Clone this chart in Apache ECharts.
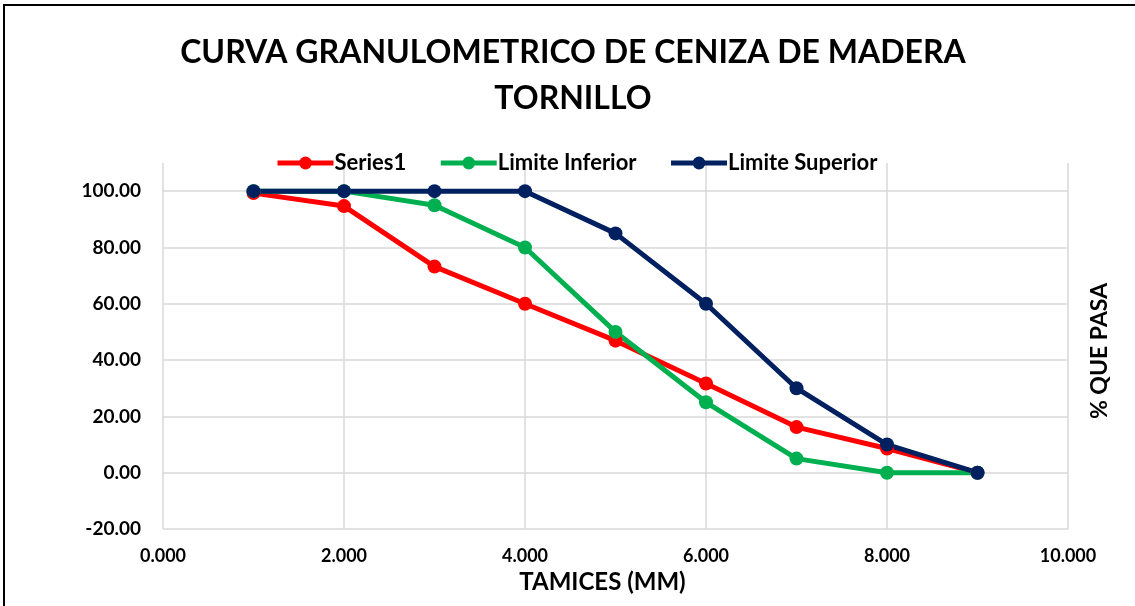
<!DOCTYPE html>
<html><head><meta charset="utf-8">
<script src="https://cdn.jsdelivr.net/npm/echarts@6/dist/echarts.min.js"></script>
<style>
html,body{margin:0;padding:0;background:#fff;overflow:hidden}
#frame{position:absolute;left:3px;top:4px;width:1140px;height:610px;border:2px solid #000;box-sizing:border-box}
#c{position:absolute;left:0;top:0;width:1135px;height:606px}
</style></head>
<body><div id="frame"></div><div id="c"></div>
<script>
const xValues = [1, 2, 3, 4, 5, 6, 7, 8, 9];
const series1 = [99.3, 94.7, 73.2, 60.0, 46.9, 31.7, 16.2, 8.6, 0];
const limiteInferior = [100, 100, 95, 80, 50, 25, 5, 0, 0];
const limiteSuperior = [100, 100, 100, 100, 85, 60, 30, 10, 0];
const seriesNames = ['Series1', 'Limite Inferior', 'Limite Superior'];
const colors = ['#FF0000', '#00B050', '#002060'];

const font = 'Lato';
const pair = arr => xValues.map((x, i) => [x, arr[i]]);
const chart = echarts.init(document.getElementById('c'));
const mk = (name, data, color) => ({
  name, type: 'line', data: pair(data), symbol: 'circle', symbolSize: 14,
  lineStyle: {width: 5, color}, itemStyle: {color}, color, animation: false
});
chart.setOption({
  animation: false,
  title: {
    text: 'CURVA GRANULOMETRICO DE CENIZA DE MADERA\nTORNILLO',
    left: 568, textAlign: 'center', top: 25, itemGap: 0,
    textStyle: {fontFamily: font, fontWeight: 'bold', fontSize: 32, lineHeight: 46, color: '#000'}
  },
  legend: {
    left: 275, top: 152, padding: 0, itemWidth: 56, itemHeight: 16, itemGap: 32,
    data: seriesNames,
    lineStyle: {width: 5},
    textStyle: {fontFamily: font, fontWeight: 'bold', fontSize: 22, color: '#000', padding: [0,0,0,-4]}
  },
  grid: {left: 163, right: 67, top: 163, bottom: 77},
  xAxis: {
    type: 'value', min: 0, max: 10, interval: 2,
    name: 'TAMICES (MM)', nameLocation: 'middle', nameGap: 40,
    nameTextStyle: {fontFamily: font, fontWeight: 'bold', fontSize: 24, color: '#000', padding: [0, 26, 0, 0]},
    axisLine: {show: false}, axisTick: {show: false},
    axisLabel: {fontFamily: font, fontWeight: 'bold', fontSize: 18, color: '#000', margin: 18,
      formatter: v => v.toFixed(3)},
    splitLine: {show: true, lineStyle: {color: '#D9D9D9', width: 1.5}}
  },
  yAxis: [{
    type: 'value', min: -20, max: 110, interval: 20,
    axisLine: {show: false}, axisTick: {show: false},
    axisLabel: {fontFamily: font, fontWeight: 'bold', fontSize: 19, color: '#000', margin: 22,
      showMaxLabel: false, formatter: v => v > 100 ? '' : v.toFixed(2)},
    splitLine: {show: true, showMaxLine: false, lineStyle: {color: '#D9D9D9', width: 1.5}}
  }, {
    type: 'value', min: -20, max: 110, position: 'right',
    name: '% QUE PASA', nameLocation: 'middle', nameGap: 20, nameRotate: 90,
    nameTextStyle: {fontFamily: font, fontWeight: 'bold', fontSize: 23, color: '#000', padding: [0, 10, 0, 0]},
    axisLine: {show: false}, axisTick: {show: false}, axisLabel: {show: false}, splitLine: {show: false}
  }],
  series: [
    mk(seriesNames[0], series1, colors[0]),
    mk(seriesNames[1], limiteInferior, colors[1]),
    mk(seriesNames[2], limiteSuperior, colors[2])
  ]
});
</script></body></html>
